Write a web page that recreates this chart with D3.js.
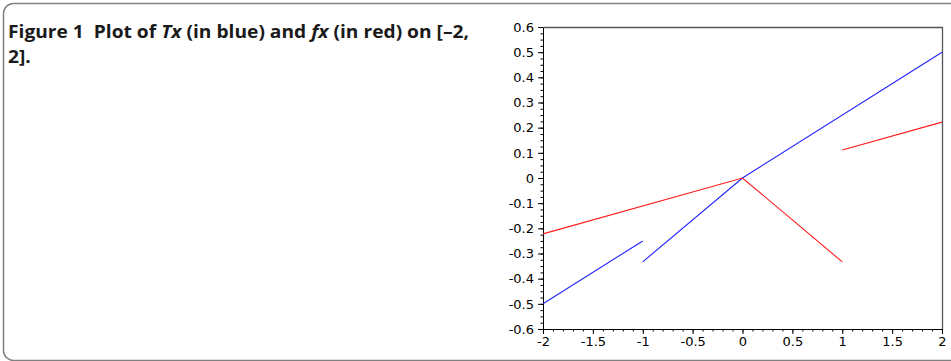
<!DOCTYPE html>
<html>
<head>
<meta charset="utf-8">
<script src="https://cdn.jsdelivr.net/npm/d3@7"></script>
<style>
  body { margin: 0; background: #fff; }
  svg { display: block; }
  .caption { white-space: pre; }
</style>
</head>
<body>
<div id="chart"></div>
<script>
// axis ticks
const xTicks = [-2, -1.5, -1, -0.5, 0, 0.5, 1, 1.5, 2];
const yTicks = [-0.6, -0.5, -0.4, -0.3, -0.2, -0.1, 0, 0.1, 0.2, 0.3, 0.4, 0.5, 0.6];

// Tx (blue), two pieces
const txLeft = [[-2, -0.5], [-1, -0.25]];
const txRight = [[-1, -0.333], [0, 0], [2, 0.5]];
// fx (red), two pieces
const fxLeft = [[-2, -0.222], [0, 0], [1, -0.333]];
const fxRight = [[1, 0.111], [2, 0.222]];

const W = 951, H = 361;
const margin = {top: 27, right: 9, bottom: 32, left: 543};

const svg = d3.select("#chart").append("svg")
    .attr("width", W)
    .attr("height", H);

// rounded figure frame (runs off the right and bottom edges)
svg.append("rect")
    .attr("x", 3.5)
    .attr("y", 3.5)
    .attr("width", W + 20)
    .attr("height", H - 4)
    .attr("rx", 10)
    .attr("fill", "none")
    .attr("stroke", "#808080")
    .attr("stroke-width", 1.5);

// caption
const caption = svg.append("text")
    .attr("class", "caption")
    .attr("x", 8)
    .attr("y", 38)
    .attr("font-family", "'Open Sans', 'Noto Sans', sans-serif")
    .attr("font-weight", "bold")
    .attr("font-size", 17.5)
    .attr("fill", "#1a1a1a");
const line1 = caption.append("tspan").attr("x", 8);
line1.append("tspan").text("Figure 1  Plot of ");
line1.append("tspan").attr("font-style", "italic").text("Tx");
line1.append("tspan").text(" (in blue) and ");
line1.append("tspan").attr("font-style", "italic").text("fx");
line1.append("tspan").text(" (in red) on [\u20132,");
caption.append("tspan").attr("x", 8).attr("dy", 25).text("2].");

// stretch first line to the width it has in the figure
const w1 = line1.node().getComputedTextLength();
const k = 461 / w1;
caption.attr("transform", "translate(8,0) scale(" + k + ",1) translate(-8,0)");

const x = d3.scaleLinear().domain([-2, 2]).range([0, 399]);
const y = d3.scaleLinear().domain([-0.6, 0.6]).range([302, 0]);

const chart = svg.append("g")
    .attr("transform", "translate(" + margin.left + "," + margin.top + ")");

// top and right box lines
chart.append("path")
    .attr("d", "M0.5," + (y(0.6) + 0.5) + "H" + (x(2) + 0.5) + "V" + (y(-0.6) + 0.5))
    .attr("fill", "none")
    .attr("stroke", "#555")
    .attr("stroke-width", 1.3);

const fmt = d => (d < 0 ? "-" : "") + Math.abs(d);

// minor ticks
const xMinor = d3.range(-2, 2.0001, 0.1);
const yMinor = d3.range(-0.6, 0.6001, 0.025);

chart.append("g")
    .attr("transform", "translate(0," + y(-0.6) + ")")
    .call(d3.axisBottom(x).tickValues(xMinor).tickSize(2.5).tickFormat(""))
    .call(g => g.select(".domain").remove());
chart.append("g")
    .call(d3.axisLeft(y).tickValues(yMinor).tickSize(2.5).tickFormat(""))
    .call(g => g.select(".domain").remove());

// major axes
const xAxis = chart.append("g")
    .attr("transform", "translate(0," + y(-0.6) + ")")
    .call(d3.axisBottom(x).tickValues(xTicks).tickSize(5).tickSizeOuter(0).tickPadding(3).tickFormat(fmt));
const yAxis = chart.append("g")
    .call(d3.axisLeft(y).tickValues(yTicks).tickSize(5).tickSizeOuter(0).tickPadding(4).tickFormat(fmt));

[xAxis, yAxis].forEach(a => {
  a.attr("font-family", "'DejaVu Sans', sans-serif")
   .attr("font-size", 13);
  a.selectAll("text").attr("fill", "#000");
  a.selectAll("line, path").attr("stroke", "#000");
});

const line = d3.line()
    .x(d => x(d[0]))
    .y(d => y(d[1]));

[[txLeft, "#2222ff"], [txRight, "#2222ff"], [fxLeft, "#ff1a1a"], [fxRight, "#ff1a1a"]].forEach(s => {
  chart.append("path")
      .datum(s[0])
      .attr("fill", "none")
      .attr("stroke", s[1])
      .attr("stroke-width", 1.1)
      .attr("d", line);
});
</script>
</body>
</html>
